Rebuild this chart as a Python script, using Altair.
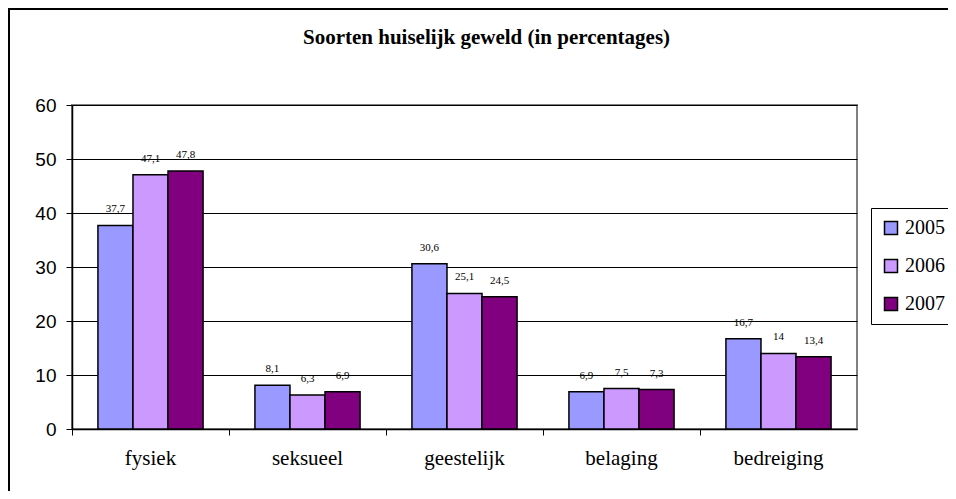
import altair as alt
import pandas as pd

categories = ["fysiek", "seksueel", "geestelijk", "belaging", "bedreiging"]
years = ["2005", "2006", "2007"]
v2005 = [37.7, 8.1, 30.6, 6.9, 16.7]
v2006 = [47.1, 6.3, 25.1, 7.5, 14]
v2007 = [47.8, 6.9, 24.5, 7.3, 13.4]
colors = ["#9999FF", "#CC99FF", "#800080"]

SERIF = "'Liberation Serif', 'Times New Roman', 'DejaVu Serif', serif"
SANS = "'Liberation Sans', Arial, sans-serif"

rows = []
for i, c in enumerate(categories):
    for y, vals in zip(years, [v2005, v2006, v2007]):
        rows.append({"cat": c, "year": y, "value": vals[i]})
df = pd.DataFrame(rows)

base = alt.Chart(df).encode(
    x=alt.X("cat:N", sort=categories, title=None,
            scale=alt.Scale(paddingInner=0, paddingOuter=0),
            axis=alt.Axis(labelFont=SERIF, labelFontSize=21, labelColor="black",
                          labelAngle=0, labelPadding=12, tickColor="black", tickSize=6,
                          bandPosition=0, domainColor="black", domainWidth=1.5, grid=False)),
    xOffset=alt.XOffset("year:N", sort=years,
                        scale=alt.Scale(paddingOuter=0.74, paddingInner=0)),
    y=alt.Y("value:Q", title=None,
            scale=alt.Scale(domain=[0, 60], nice=False),
            axis=alt.Axis(values=[0, 10, 20, 30, 40, 50, 60], labelFont=SANS,
                          labelFontSize=19, labelColor="black", tickColor="black", tickSize=6,
                          labelPadding=10, domainColor="black", domainWidth=1.5,
                          gridColor="black", gridWidth=1)),
)

bars = base.mark_bar(stroke="black", strokeWidth=1.5).encode(
    color=alt.Color("year:N", sort=years, title=None,
                    scale=alt.Scale(domain=years, range=colors),
                    legend=alt.Legend(orient="none", legendX=799, legendY=103,
                                      symbolType="square", symbolSize=169,
                                      symbolStrokeColor="black", symbolStrokeWidth=1.5,
                                      labelFont=SERIF, labelFontSize=20,
                                      labelColor="black", rowPadding=18, padding=10,
                                      strokeColor="black", labelOffset=4,
                                      fillColor="white"))
)

labels = base.transform_calculate(
    lab="replace(toString(datum.value), '.', ',')"
).mark_text(font=SERIF, fontSize=11, color="black", baseline="bottom", dy=-11).encode(
    text="lab:N"
)

border = alt.Chart(pd.DataFrame({"a": [0]})).mark_rect(
    fill=None, stroke="black", strokeWidth=2
).encode(
    x=alt.value(-63), x2=alt.value(900), y=alt.value(-96), y2=alt.value(420)
)

chart = alt.layer(border, bars, labels).properties(
    width=785, height=324,
    autosize=alt.AutoSizeParams(type="none"),
    padding={"left": 64, "top": 97, "right": 91, "bottom": 62},
    title=alt.TitleParams("Soorten huiselijk geweld (in percentages)", font=SERIF,
                          fontSize=21, fontWeight="bold", color="black", anchor="middle",
                          frame="group", offset=-40, dx=22),
).configure_view(stroke="#808080", strokeWidth=2)

chart.save("out.html", embed_options={"renderer": "svg", "actions": False})
